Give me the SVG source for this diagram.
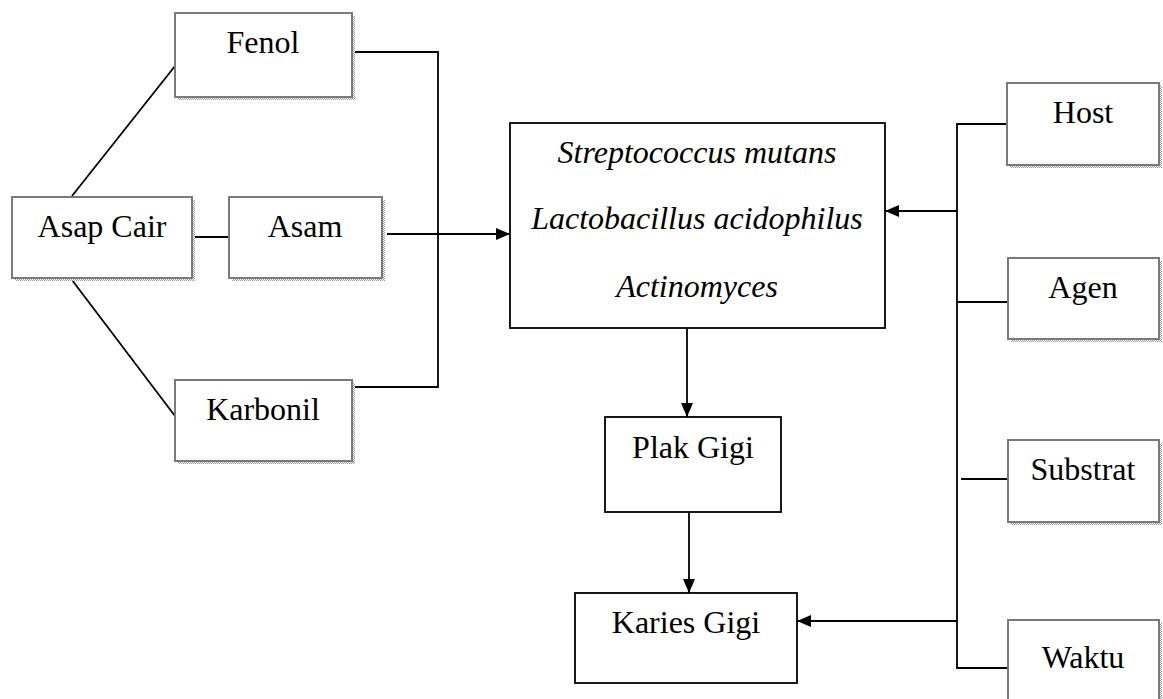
<svg xmlns="http://www.w3.org/2000/svg" width="1163" height="699" viewBox="0 0 1163 699">
<defs>
<pattern id="dots" width="2" height="2" patternUnits="userSpaceOnUse">
<rect width="2" height="2" fill="#ffffff"/>
<rect width="1" height="1" fill="#9a9a9a"/>
<rect x="1" y="1" width="1" height="1" fill="#9a9a9a"/>
</pattern>
<marker id="arr" viewBox="0 0 14 12" refX="14" refY="6" markerWidth="14" markerHeight="12" markerUnits="userSpaceOnUse" orient="auto">
<path d="M0,0 L14,6 L0,12 Z" fill="#000"/>
</marker>
</defs>
<style>
.sh{fill:url(#dots);}
.gb{fill:#fff;stroke:#7a7a7a;stroke-width:2;}
.bb{fill:#fff;stroke:#000;stroke-width:1.8;}
.t{font-family:"Liberation Serif","Times New Roman",serif;font-size:32px;fill:#000;text-anchor:middle;}
.i{font-style:italic;}
.c{fill:none;stroke:#000;stroke-width:1.8;}
</style>
<rect width="1163" height="699" fill="#fff"/>
<g id="connectors">
<line class="c" x1="72" y1="196" x2="175" y2="66"/>
<line class="c" x1="72" y1="280" x2="175" y2="416"/>
<line class="c" x1="195" y1="237" x2="229" y2="237"/>
<polyline class="c" points="355,52 438,52 438,387 355,387"/>
<line class="c" x1="387" y1="234" x2="510" y2="234" marker-end="url(#arr)"/>
<line class="c" x1="687" y1="328" x2="687" y2="417" marker-end="url(#arr)"/>
<line class="c" x1="689" y1="512" x2="689" y2="593" marker-end="url(#arr)"/>
<polyline class="c" points="1007,124 957,124 957,668 1008,668"/>
<line class="c" x1="957" y1="302" x2="1008" y2="302"/>
<line class="c" x1="961" y1="479" x2="1008" y2="479"/>
<line class="c" x1="957" y1="211" x2="885" y2="211" marker-end="url(#arr)"/>
<line class="c" x1="957" y1="621" x2="797" y2="621" marker-end="url(#arr)"/>
</g>
<g id="fenol">
<rect class="sh" x="178" y="16" width="177" height="84"/>
<rect class="gb" x="175" y="13" width="177" height="84"/>
<text class="t" x="263" y="53">Fenol</text>
</g>
<g id="asap-cair">
<rect class="sh" x="15" y="200" width="180" height="81"/>
<rect class="gb" x="12" y="197" width="180" height="81"/>
<text class="t" x="102" y="237">Asap Cair</text>
</g>
<g id="asam">
<rect class="sh" x="232" y="200" width="153" height="81"/>
<rect class="gb" x="229" y="197" width="153" height="81"/>
<text class="t" x="305" y="237">Asam</text>
</g>
<g id="karbonil">
<rect class="sh" x="178" y="383" width="177" height="81"/>
<rect class="gb" x="175" y="380" width="177" height="81"/>
<text class="t" x="263" y="420">Karbonil</text>
</g>
<g id="bakteri">
<rect class="bb" x="510" y="123" width="375" height="205"/>
<text class="t i" x="697" y="163">Streptococcus mutans</text>
<text class="t i" x="697" y="229">Lactobacillus acidophilus</text>
<text class="t i" x="697" y="297">Actinomyces</text>
</g>
<g id="plak-gigi">
<rect class="bb" x="605" y="417" width="176" height="95"/>
<text class="t" x="693" y="458">Plak Gigi</text>
</g>
<g id="karies-gigi">
<rect class="bb" x="575" y="593" width="222" height="90"/>
<text class="t" x="686" y="633">Karies Gigi</text>
</g>
<g id="host">
<rect class="sh" x="1010" y="86" width="152" height="82"/>
<rect class="gb" x="1007" y="83" width="152" height="82"/>
<text class="t" x="1083" y="123">Host</text>
</g>
<g id="agen">
<rect class="sh" x="1011" y="261" width="151" height="81"/>
<rect class="gb" x="1008" y="258" width="151" height="81"/>
<text class="t" x="1083" y="298">Agen</text>
</g>
<g id="substrat">
<rect class="sh" x="1011" y="443" width="151" height="82"/>
<rect class="gb" x="1008" y="440" width="151" height="82"/>
<text class="t" x="1083" y="480">Substrat</text>
</g>
<g id="waktu">
<rect class="sh" x="1011" y="623" width="151" height="82"/>
<rect class="gb" x="1008" y="620" width="151" height="82"/>
<text class="t" x="1083" y="668">Waktu</text>
</g>
</svg>
